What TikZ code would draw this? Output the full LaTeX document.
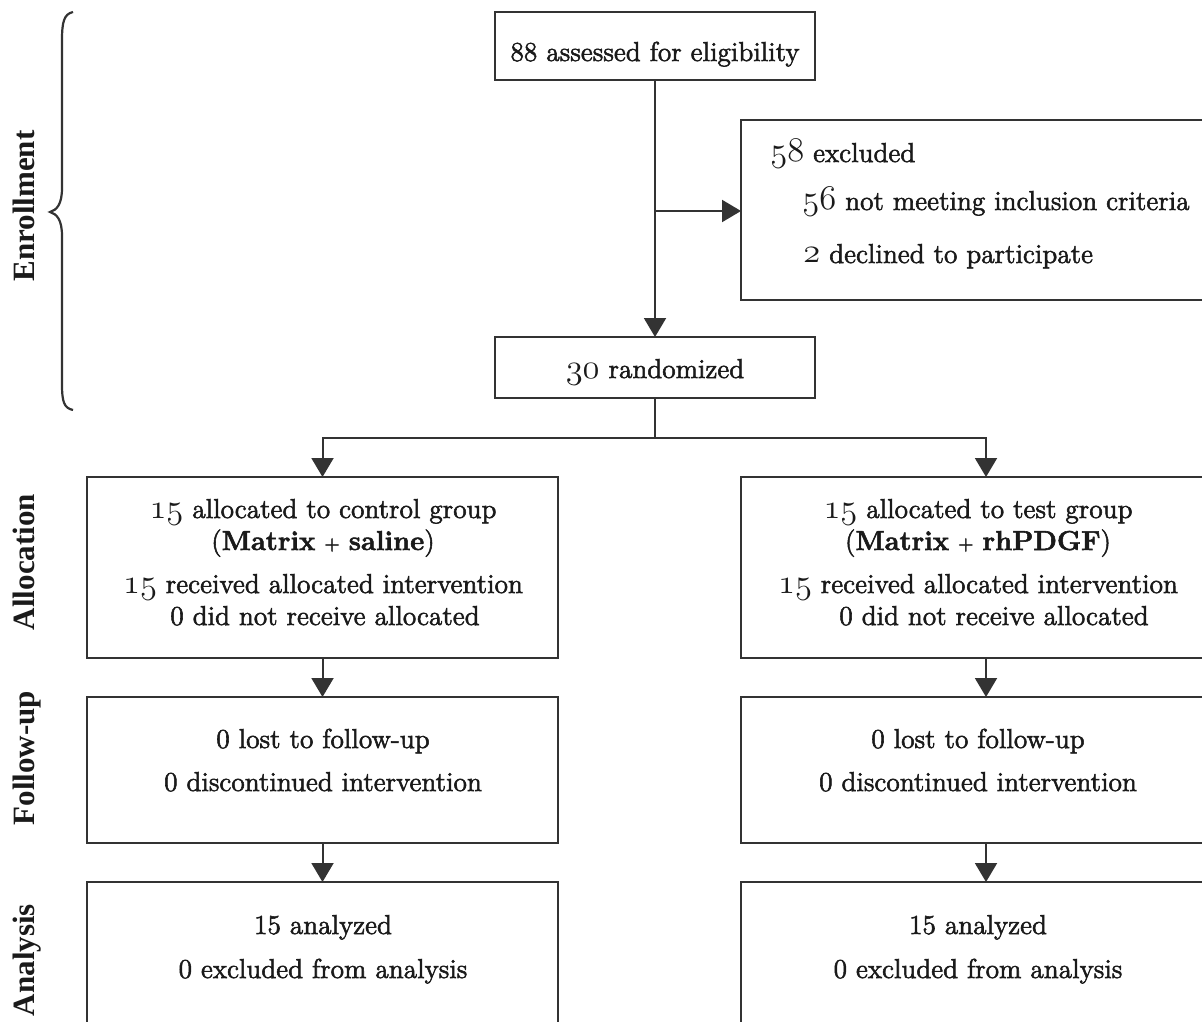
\documentclass[tikz,border=0pt]{standalone}
\usepackage{fontspec}
\setmainfont{Latin Modern Roman}[FakeBold=2]
\newfontfamily\labfont{Liberation Serif}
\usetikzlibrary{arrows.meta}
\definecolor{ink}{HTML}{333333}
\definecolor{txtc}{HTML}{1A1A1A}
\newcommand{\osn}[1]{{\fontsize{16.5}{16}\usefont{OML}{lmm}{b}{it}#1}}
\newcommand{\smplus}{{\fontsize{10}{12}\selectfont +}}
\begin{document}
\begin{tikzpicture}[x=0.5pt,y=-0.5pt,
  box/.style={draw=ink, line width=1.1pt, inner sep=0pt, outer sep=0pt, anchor=north west},
  txt/.style={inner sep=0pt, text=txtc, font=\fontsize{13.7}{16}\selectfont, anchor=base},
  ltxt/.style={txt, anchor=base west},
  lab/.style={inner sep=0pt, text=txtc, font=\labfont\bfseries\fontsize{15.5}{18}\selectfont, rotate=90, anchor=base},
  conn/.style={draw=ink, line width=1pt},
  arr/.style={conn, -{Triangle[width=11pt,length=9.5pt]}},
]
\useasboundingbox (0,0) rectangle (1202,1021);
\clip (0,0) rectangle (1202,1021);
\fill[white] (0,0) rectangle (1202,1021);

% boxes
\node[box, minimum width=160pt, minimum height=34pt] (elig) at (495,12) {};
\node[box, minimum width=300pt, minimum height=90pt] (excl) at (741,120) {};
\node[box, minimum width=160pt, minimum height=30.5pt] (rand) at (495,337) {};
\node[box, minimum width=235.5pt, minimum height=90.5pt] (allocL) at (87,477) {};
\node[box, minimum width=245pt, minimum height=90.5pt] (allocR) at (741,477) {};
\node[box, minimum width=235.5pt, minimum height=73pt] (fuL) at (87,697) {};
\node[box, minimum width=245pt, minimum height=73pt] (fuR) at (741,697) {};
\node[box, minimum width=235.5pt, minimum height=90pt] (anL) at (87,882) {};
\node[box, minimum width=245pt, minimum height=90pt] (anR) at (741,882) {};

% connectors
\coordinate (br) at (655,211);
\coordinate (split) at (655,438);
\draw[arr] (elig.south) -- (rand.north);
\draw[arr] (br) -- (br -| excl.west);
\draw[conn] (rand.south) -- (split);
\draw[arr] (split) -| (allocL.north);
\draw[arr] (split) -| (allocR.north);
\draw[arr] (allocL.south) -- (fuL.north);
\draw[arr] (allocR.south) -- (fuR.north);
\draw[arr] (fuL.south) -- (anL.north);
\draw[arr] (fuR.south) -- (anR.north);

% texts
\node[txt] (t1) at (655,61) {88 assessed for eligibility};
\node[ltxt] (t2) at (770,162) {\osn{58} excluded};
\node[ltxt] (t3) at (802,210) {\osn{56} not meeting inclusion criteria};
\node[ltxt] (t4) at (803,263) {\osn{2} declined to participate};
\node[txt] (t5) at (655,378) {\osn{30} randomized};

\node[txt] (aL1) at (323,518) {\osn{15} allocated to control group};
\node[txt] (aL2) at (323,550) {(\textbf{Matrix} \smplus{} \textbf{saline})};
\node[txt] (aL3) at (323,593) {\osn{15} received allocated intervention};
\node[txt] (aL4) at (325,625) {0 did not receive allocated};

\node[txt] (aR1) at (978,518) {\osn{15} allocated to test group};
\node[txt] (aR2) at (978,550) {(\textbf{Matrix} \smplus{} \textbf{rhPDGF})};
\node[txt] (aR3) at (978,593) {\osn{15} received allocated intervention};
\node[txt] (aR4) at (994,625) {0 did not receive allocated};

\node[txt] (fL1) at (323,748) {0 lost to follow-up};
\node[txt] (fL2) at (323,791) {0 discontinued intervention};
\node[txt] (fR1) at (978,748) {0 lost to follow-up};
\node[txt] (fR2) at (978,791) {0 discontinued intervention};

\node[txt] (nL1) at (323,934) {15 analyzed};
\node[txt] (nL2) at (323,978) {0 excluded from analysis};
\node[txt] (nR1) at (978,934) {15 analyzed};
\node[txt] (nR2) at (978,978) {0 excluded from analysis};

% side labels
\node[lab] (lEnr) at (34,206) {Enrollment};
\node[lab] (lAll) at (34,562) {Allocation};
\node[lab] (lFol) at (34,758) {Follow-up};
\node[lab] (lAna) at (34,960) {Analysis};

% brace
\draw[ink, line width=1.1pt] (73,12) .. controls (64,14) and (62,22) .. (62,40)
  -- (62,188) .. controls (62,204) and (57,210) .. (50,212)
  .. controls (57,214) and (62,220) .. (62,236)
  -- (62,384) .. controls (62,402) and (64,408) .. (73,410);
\end{tikzpicture}
\end{document}
